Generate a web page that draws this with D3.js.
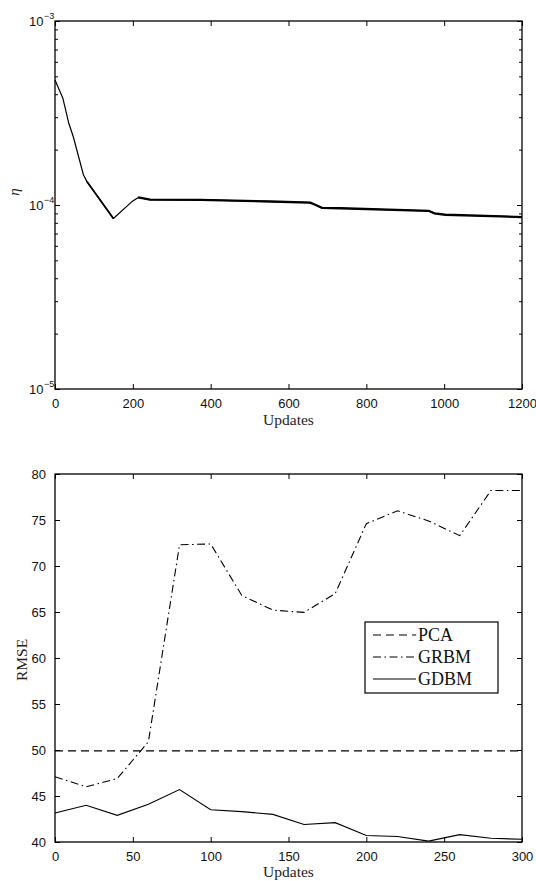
<!DOCTYPE html>
<html>
<head>
<meta charset="utf-8">
<script src="https://cdn.jsdelivr.net/npm/d3@7"></script>
<style>
  html, body { margin: 0; padding: 0; background: #fff; }
  svg { display: block; }
</style>
</head>
<body>
<svg id="chart" width="536" height="881"></svg>
<script>
// ---------- DATA ----------
// Top panel: learning rate eta vs updates (log scale)
const etaUpdates = [0, 20, 35, 47, 73, 82, 150, 197, 214, 244, 373, 553, 656, 670, 686, 733, 960, 975, 1003, 1200];
const etaValues  = [4.78e-4, 3.82e-4, 2.8e-4, 2.35e-4, 1.46e-4, 1.34e-4, 8.45e-5, 1.04e-4, 1.10e-4, 1.07e-4,
                    1.065e-4, 1.045e-4, 1.03e-4, 1.0e-4, 9.65e-5, 9.6e-5, 9.3e-5, 9.0e-5, 8.85e-5, 8.6e-5];
const topXTicks = [0, 200, 400, 600, 800, 1000, 1200];
const topYMajor = [1e-5, 1e-4, 1e-3];
const topYExps  = ["−5", "−4", "−3"];

// Bottom panel: RMSE vs updates
const rmseUpdates = [0, 20, 40, 60, 80, 100, 120, 140, 160, 180, 200, 220, 240, 260, 280, 300];
const pcaValues  = [49.9, 49.9, 49.9, 49.9, 49.9, 49.9, 49.9, 49.9, 49.9, 49.9, 49.9, 49.9, 49.9, 49.9, 49.9, 49.9];
const grbmValues = [47.1, 46.0, 46.9, 50.9, 72.3, 72.4, 66.8, 65.2, 64.96, 67.0, 74.6, 76.0, 74.9, 73.3, 78.2, 78.2];
const gdbmValues = [43.15, 44.0, 42.9, 44.1, 45.7, 43.5, 43.3, 43.0, 41.9, 42.1, 40.7, 40.6, 40.1, 40.8, 40.4, 40.3];
const bottomXTicks = [0, 50, 100, 150, 200, 250, 300];
const bottomYTicks = [40, 45, 50, 55, 60, 65, 70, 75, 80];
const legendLabels = ["PCA", "GRBM", "GDBM"];

// ---------- DRAW ----------
const svg = d3.select("#chart");
const tickFont = "'Liberation Sans', Arial, Helvetica, sans-serif";
const serifFont = "'Liberation Serif', 'Times New Roman', serif";
const L = 55, R = 522;

function frame(g, x, y) {
  const [x0, x1] = x.range();
  const [y0, y1] = y.range();
  g.append("rect")
    .attr("x", x0).attr("y", Math.min(y0, y1))
    .attr("width", x1 - x0).attr("height", Math.abs(y1 - y0))
    .attr("fill", "none").attr("stroke", "#000").attr("stroke-width", 1.3);
}

function styleAxis(sel) {
  sel.select(".domain").remove();
  sel.selectAll(".tick line").attr("stroke", "#000").attr("stroke-width", 1);
  sel.selectAll(".tick text").attr("fill", "#111")
    .style("font-family", tickFont).style("font-size", "13px");
}

// ===== TOP PANEL =====
{
  const T = 21, B = 389;
  const x = d3.scaleLinear().domain([0, 1200]).range([L, R]);
  const y = d3.scaleLog().domain([1e-5, 1e-3]).range([B, T]);
  const g = svg.append("g");

  const line = d3.line().x((d, i) => x(etaUpdates[i])).y(d => y(d));
  g.append("path").datum(etaValues).attr("d", line)
    .attr("fill", "none").attr("stroke", "#000").attr("stroke-width", 1.2)
    .attr("stroke-linejoin", "round");
  // jagged (oscillating) parts rendered thicker
  const idx = etaUpdates.map((u, i) => i);
  const line2 = d3.line().x(i => x(etaUpdates[i])).y(i => y(etaValues[i]));
  g.append("path").datum(idx.filter(i => etaUpdates[i] >= 82 && etaUpdates[i] <= 150)).attr("d", line2)
    .attr("fill", "none").attr("stroke", "#000").attr("stroke-width", 1.7);
  g.append("path").datum(idx.filter(i => etaUpdates[i] >= 214)).attr("d", line2)
    .attr("fill", "none").attr("stroke", "#000").attr("stroke-width", 2.3);

  const xb = g.append("g").attr("transform", `translate(0,${B})`)
    .call(d3.axisBottom(x).tickValues(topXTicks).tickSizeInner(-5).tickSizeOuter(0).tickPadding(10).tickFormat(d3.format("d")));
  styleAxis(xb);
  const xt = g.append("g").attr("transform", `translate(0,${T})`)
    .call(d3.axisTop(x).tickValues(topXTicks).tickSizeInner(-5).tickSizeOuter(0).tickFormat(""));
  styleAxis(xt);

  const minor = [];
  [1e-5, 1e-4].forEach(b => { for (let k = 2; k <= 9; k++) minor.push(b * k); });
  const yl = g.append("g").attr("transform", `translate(${L},0)`)
    .call(d3.axisLeft(y).tickValues(topYMajor).tickSizeInner(-5).tickSizeOuter(0).tickFormat(""));
  styleAxis(yl);
  const yr = g.append("g").attr("transform", `translate(${R},0)`)
    .call(d3.axisRight(y).tickValues(topYMajor).tickSizeInner(-5).tickSizeOuter(0).tickFormat(""));
  styleAxis(yr);
  const yl2 = g.append("g").attr("transform", `translate(${L},0)`)
    .call(d3.axisLeft(y).tickValues(minor).tickSizeInner(-3).tickSizeOuter(0).tickFormat(""));
  styleAxis(yl2);
  const yr2 = g.append("g").attr("transform", `translate(${R},0)`)
    .call(d3.axisRight(y).tickValues(minor).tickSizeInner(-3).tickSizeOuter(0).tickFormat(""));
  styleAxis(yr2);

  topYMajor.forEach((v, i) => {
    g.append("text")
      .attr("x", 43.5).attr("y", y(v) + 5)
      .attr("text-anchor", "end")
      .attr("fill", "#111")
      .style("font-family", tickFont).style("font-size", "13px")
      .text("10");
    g.append("text")
      .attr("x", 44).attr("y", y(v) - 2.5)
      .attr("fill", "#111")
      .style("font-family", tickFont).style("font-size", "9px")
      .text(topYExps[i]);
  });

  frame(g, x, y);

  g.append("text").attr("x", (L + R) / 2).attr("y", 425)
    .attr("text-anchor", "middle").attr("fill", "#222")
    .style("font-family", serifFont).style("font-size", "15.5px")
    .text("Updates");
  g.append("text")
    .attr("transform", `translate(19,192) rotate(-90)`)
    .attr("text-anchor", "middle").attr("fill", "#222")
    .style("font-family", serifFont).style("font-size", "15px").style("font-style", "italic")
    .text("η");
}

// ===== BOTTOM PANEL =====
{
  const T = 474, B = 842;
  const x = d3.scaleLinear().domain([0, 300]).range([L, R]);
  const y = d3.scaleLinear().domain([40, 80]).range([B, T]);
  const g = svg.append("g");

  const line = d3.line().x((d, i) => x(rmseUpdates[i])).y(d => y(d));
  const styles = [
    { data: pcaValues, dash: "8,5" },
    { data: grbmValues, dash: "8,3.5,1.5,3.5" },
    { data: gdbmValues, dash: null }
  ];
  styles.forEach(s => {
    g.append("path").datum(s.data).attr("d", line)
      .attr("fill", "none").attr("stroke", "#000").attr("stroke-width", 1.1)
      .attr("stroke-dasharray", s.dash);
  });

  const xb = g.append("g").attr("transform", `translate(0,${B})`)
    .call(d3.axisBottom(x).tickValues(bottomXTicks).tickSizeInner(-5).tickSizeOuter(0).tickPadding(10).tickFormat(d3.format("d")));
  styleAxis(xb);
  const xt = g.append("g").attr("transform", `translate(0,${T})`)
    .call(d3.axisTop(x).tickValues(bottomXTicks).tickSizeInner(-5).tickSizeOuter(0).tickFormat(""));
  styleAxis(xt);
  const yl = g.append("g").attr("transform", `translate(${L},0)`)
    .call(d3.axisLeft(y).tickValues(bottomYTicks).tickSizeInner(-5).tickSizeOuter(0).tickPadding(9).tickFormat(d3.format("d")));
  styleAxis(yl);
  const yr = g.append("g").attr("transform", `translate(${R},0)`)
    .call(d3.axisRight(y).tickValues(bottomYTicks).tickSizeInner(-5).tickSizeOuter(0).tickFormat(""));
  styleAxis(yr);

  frame(g, x, y);

  g.append("text").attr("x", (L + R) / 2).attr("y", 877)
    .attr("text-anchor", "middle").attr("fill", "#222")
    .style("font-family", serifFont).style("font-size", "15.5px")
    .text("Updates");
  g.append("text")
    .attr("transform", `translate(27,660) rotate(-90)`)
    .attr("text-anchor", "middle").attr("fill", "#222")
    .style("font-family", serifFont).style("font-size", "15.5px")
    .text("RMSE");

  const lg = g.append("g");
  lg.append("rect").attr("x", 365).attr("y", 622).attr("width", 133).attr("height", 71)
    .attr("fill", "#fff").attr("stroke", "#000").attr("stroke-width", 1.2);
  const ys = [635, 657, 679];
  legendLabels.forEach((lab, i) => {
    lg.append("line").attr("x1", 373).attr("x2", 416).attr("y1", ys[i]).attr("y2", ys[i])
      .attr("stroke", "#000").attr("stroke-width", 1.1).attr("stroke-dasharray", styles[i].dash);
    lg.append("text").attr("x", 418).attr("y", ys[i] + 6)
      .attr("fill", "#111")
      .style("font-family", serifFont).style("font-size", "18px")
      .text(lab);
  });
}
</script>
</body>
</html>
